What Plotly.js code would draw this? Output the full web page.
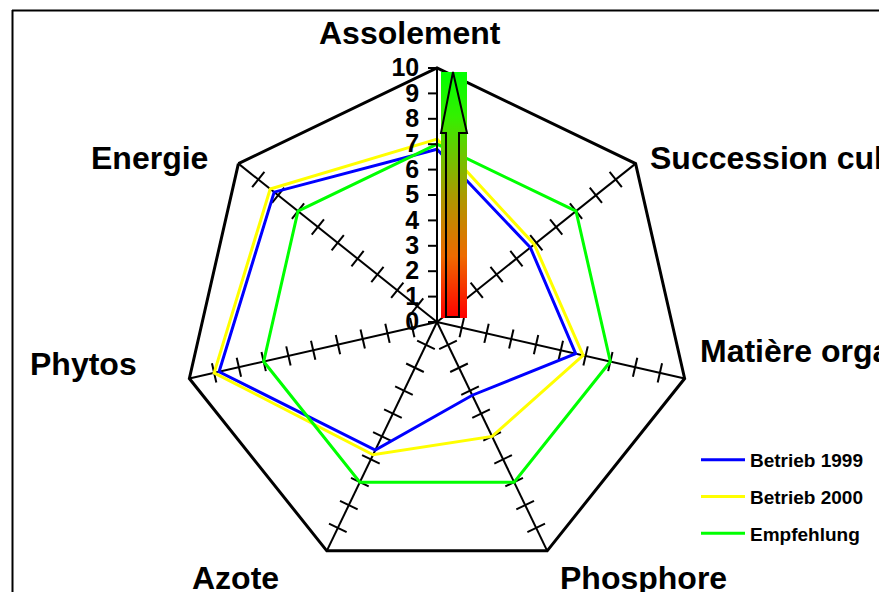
<!DOCTYPE html>
<html>
<head>
<meta charset="utf-8">
<script src="https://cdn.plot.ly/plotly-3.0.1.min.js"></script>
<style>html,body{margin:0;padding:0;background:#fff;}#chart{width:879px;height:592px;}</style>
</head>
<body>
<div id="chart"></div>
<script>
// ---- data ----
var categories = ["Assolement", "Succession culturale", "Matière organique", "Phosphore", "Azote", "Phytos", "Energie"];
var betrieb1999 = [6.8, 4.7, 5.6, 3.2, 5.6, 8.8, 8.2];
var betrieb2000 = [7.2, 4.9, 5.9, 5.0, 5.8, 9.0, 8.4];
var empfehlung  = [7, 7, 7, 7, 7, 7, 7];
var seriesNames = ["Betrieb 1999", "Betrieb 2000", "Empfehlung"];
var tickValues = [1, 2, 3, 4, 5, 6, 7, 8, 9];

// ---- helpers ----
var W = 879, H = 592;
function px(x){ return x / W; }
function py(y){ return 1 - y / H; }
var FONT = "Liberation Sans, Arial, sans-serif";
var cx = 437, cy = 322, R = 254;

function closed(a){ return a.concat([a[0]]); }

var colors = ["#0000ff", "#ffff00", "#00ff00"];
var allSeries = [betrieb1999, betrieb2000, empfehlung];
var traces = [];

// tick marks on the non-radial spokes
var tr = [], tt = [], ta = [];
for (var i = 1; i < categories.length; i++) {
  for (var k = 0; k < tickValues.length; k++) {
    tr.push(tickValues[k]); tt.push(categories[i]); ta.push(i * 360 / categories.length);
  }
}
traces.push({
  type: "scatterpolar", mode: "markers", r: tr, theta: tt, showlegend: false, hoverinfo: "skip",
  marker: { symbol: "line-ew", size: 14, angle: ta, color: "black", line: { color: "black", width: 2 } }
});

allSeries.forEach(function (s, j) {
  traces.push({
    type: "scatterpolar", mode: "lines", name: seriesNames[j], legendgroup: "g" + j,
    r: closed(s), theta: closed(categories),
    line: { color: colors[j], width: 3 }
  });
});

// gradient image for the arrow
var cv = document.createElement("canvas");
cv.width = 26; cv.height = 246;
var ctx = cv.getContext("2d");
var g = ctx.createLinearGradient(0, 0, 0, 246);
g.addColorStop(0, "#00ff00");
g.addColorStop(0.18, "#33f000");
g.addColorStop(0.5, "#aa9a00");
g.addColorStop(0.75, "#ee6a00");
g.addColorStop(1, "#ff0000");
ctx.fillStyle = g; ctx.fillRect(0, 0, 26, 246);
var gradURL = cv.toDataURL("image/png");

// arrow outline path in paper coords
function P(x, y){ return px(x).toFixed(5) + "," + py(y).toFixed(5); }
var arrowPath = "M" + P(446, 317) + " L" + P(446, 133) + " L" + P(441, 133) + " L" + P(453, 72) +
  " L" + P(467, 133) + " L" + P(459, 133) + " L" + P(459, 317) + " Z";

var annotations = [
  { t: categories[0], x: 410, y: 33, xa: "center" },
  { t: categories[1], x: 648, y: 158, xa: "left" },
  { t: categories[2], x: 698, y: 351, xa: "left" },
  { t: categories[3], x: 643, y: 578, xa: "center" },
  { t: categories[4], x: 235, y: 578, xa: "center" },
  { t: categories[5], x: 83, y: 364, xa: "center" },
  { t: categories[6], x: 149, y: 158, xa: "center" }
].map(function (a) {
  return { text: a.t, x: px(a.x), y: py(a.y), xref: "paper", yref: "paper", xanchor: a.xa, yanchor: "middle",
    showarrow: false, font: { family: FONT, size: 32, color: "black", weight: "bold" } };
});

var layout = {
  width: W, height: H,
  margin: { l: 0, r: 0, t: 0, b: 0 },
  paper_bgcolor: "white",
  font: { family: FONT, color: "black" },
  polar: {
    domain: { x: [px(cx - R), px(cx + R)], y: [py(cy + R), py(cy - R)] },
    gridshape: "linear",
    bgcolor: "rgba(0,0,0,0)",
    angularaxis: {
      type: "category", categoryarray: categories, direction: "clockwise", rotation: 90,
      showline: true, linecolor: "black", linewidth: 3,
      showgrid: true, gridcolor: "black", gridwidth: 2,
      showticklabels: false, ticks: ""
    },
    radialaxis: {
      range: [0, 10], angle: 90, side: "counterclockwise", tickangle: 90,
      showline: true, linecolor: "black", linewidth: 2,
      showgrid: false, ticks: "outside", ticklen: 8, tickwidth: 2, tickcolor: "black",
      tickmode: "linear", tick0: 0, dtick: 1,
      tickfont: { family: FONT, size: 25, color: "black", weight: "bold" }
    }
  },
  showlegend: true,
  legend: {
    x: px(696), y: py(441), xanchor: "left", yanchor: "top", itemwidth: 44,
    traceorder: "grouped", tracegroupgap: 9, bgcolor: "rgba(0,0,0,0)",
    font: { family: FONT, size: 19, color: "black", weight: "bold" }
  },
  images: [{
    source: gradURL, xref: "paper", yref: "paper", x: px(441), y: py(72),
    sizex: 26 / W, sizey: 246 / H, xanchor: "left", yanchor: "top", sizing: "stretch", layer: "above"
  }],
  shapes: [
    { type: "path", path: arrowPath, xref: "paper", yref: "paper", line: { color: "black", width: 2 }, layer: "above" },
    { type: "line", xref: "paper", yref: "paper", x0: px(12.5), x1: px(12.5), y0: py(10), y1: py(600), line: { color: "black", width: 2 } },
    { type: "line", xref: "paper", yref: "paper", x0: px(12), x1: px(890), y0: py(10.5), y1: py(10.5), line: { color: "black", width: 2 } }
  ],
  annotations: annotations
};

Plotly.newPlot("chart", traces, layout, { displayModeBar: false, staticPlot: true });
</script>
</body>
</html>
